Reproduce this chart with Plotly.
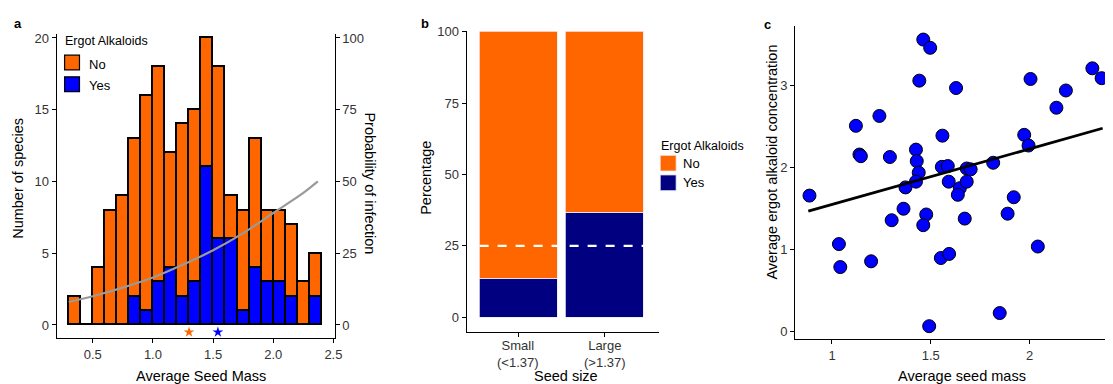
import plotly.graph_objects as go

# ---------------- data ----------------
# Panel a: histogram of average seed mass (bins of width 0.1)
bin_starts = [0.3, 0.4, 0.5, 0.6, 0.7, 0.8, 0.9, 1.0, 1.1, 1.2, 1.3,
              1.4, 1.5, 1.6, 1.7, 1.8, 1.9, 2.0, 2.1, 2.2, 2.3]
yes_counts = [0, 0, 0, 0, 0, 2, 1, 3, 4, 2, 3, 11, 6, 6, 1, 4, 3, 3, 2, 0, 2]
no_counts = [2, 0, 4, 8, 9, 11, 15, 15, 8, 12, 12, 9, 12, 3, 7, 9, 5, 5, 5, 3, 3]
bin_width = 0.1

# fitted probability of infection
curve_mass = [0.3, 0.5, 0.75, 1.0, 1.25, 1.5, 1.75, 2.0, 2.25, 2.37]
curve_prob = [8, 10, 13, 16.5, 21, 26, 32, 39, 46, 50]

# median markers (stars)
star_mass = [1.30, 1.54]
star_level = [-0.5, -0.5]

# Panel b: percentage by seed size
size_groups = ["Small<br>(<1.37)", "Large<br>(>1.37)"]
pct_yes = [13.5, 36.5]
pct_no = [86.5, 63.5]
baseline_pct = 25

# Panel c: scatter of seed mass vs alkaloid concentration
seed_mass_c = [0.886, 1.121, 1.139, 1.146, 1.240, 1.293, 1.372, 1.425, 1.429, 1.439,
               1.425, 1.442, 1.462, 1.497, 1.559, 1.556, 1.586, 1.591, 1.628, 1.647,
               1.637, 1.682, 1.702, 1.682, 1.816, 1.920, 1.973, 1.995, 2.005, 2.136,
               2.184, 2.318, 2.365, 1.362, 1.302, 1.477, 1.462, 1.672, 1.889, 1.035,
               1.042, 1.198, 1.551, 1.593, 2.042, 1.849, 1.492]
ergot_conc = [1.66, 2.51, 2.16, 2.14, 2.63, 2.13, 1.76, 2.22, 2.08, 1.94,
              1.83, 3.06, 3.56, 3.46, 2.39, 2.01, 2.02, 1.83, 2.97, 1.75,
              1.67, 1.99, 1.98, 1.83, 2.06, 1.64, 2.40, 2.27, 3.08, 2.73,
              2.94, 3.21, 3.09, 1.50, 1.36, 1.43, 1.30, 1.38, 1.44, 1.07,
              0.79, 0.86, 0.90, 0.95, 1.04, 0.23, 0.07]
fit_x = [0.88, 2.37]
fit_y = [1.47, 2.48]

# ---------------- styling ----------------
W, H = 1113, 384
OFF = 8  # page body margin in the browser
FW, FH = W - OFF, H - OFF
ORANGE = "#FF6600"
BLUE = "#0000FF"
NAVY = "#000080"
FONT = "Liberation Sans, Arial, sans-serif"
TICKCOL = "#333333"


def px(x):
    return (x - OFF) / FW


def py(y):
    return 1 - (y - OFF) / FH


bin_centers = [b + bin_width / 2 for b in bin_starts]

fig = go.Figure()

# Panel a
fig.add_trace(go.Bar(x=bin_centers, y=yes_counts, width=bin_width, marker=dict(color=BLUE, line=dict(color="black", width=1.2)),
                     xaxis="x", yaxis="y", showlegend=False, name="Yes"))
fig.add_trace(go.Bar(x=bin_centers, y=no_counts, width=bin_width, marker=dict(color=ORANGE, line=dict(color="black", width=1.2)),
                     xaxis="x", yaxis="y", showlegend=False, name="No"))
fig.add_trace(go.Scatter(x=curve_mass, y=curve_prob, mode="lines", line=dict(color="#9a9a9a", width=2.2, shape="spline"),
                         xaxis="x", yaxis="y2", showlegend=False))
fig.add_trace(go.Scatter(x=star_mass, y=star_level, mode="markers",
                         marker=dict(symbol="star", size=8, color=[ORANGE, BLUE], line=dict(width=0)),
                         xaxis="x", yaxis="y", showlegend=False, cliponaxis=False))

# Panel b
fig.add_trace(go.Bar(x=size_groups, y=pct_yes, width=0.9, marker=dict(color=NAVY, line=dict(color="#e8e8f4", width=0.8)),
                     xaxis="x2", yaxis="y3", showlegend=False))
fig.add_trace(go.Bar(x=size_groups, y=pct_no, width=0.9, marker=dict(color=ORANGE, line=dict(color="#f4e8e8", width=0.8)),
                     xaxis="x2", yaxis="y3", showlegend=False))

# Panel c
fig.add_trace(go.Scatter(x=seed_mass_c, y=ergot_conc, mode="markers",
                         marker=dict(size=13, color=BLUE, line=dict(color="black", width=1)),
                         xaxis="x3", yaxis="y4", showlegend=False, cliponaxis=False))
fig.add_trace(go.Scatter(x=fit_x, y=fit_y, mode="lines", line=dict(color="black", width=2.8),
                         xaxis="x3", yaxis="y4", showlegend=False))

axis_common = dict(showline=True, linecolor="black", linewidth=1.2, ticks="outside", ticklen=4,
                   tickcolor="black", tickwidth=1.1, showgrid=False, zeroline=False,
                   tickfont=dict(family=FONT, size=13, color=TICKCOL))

fig.update_layout(
    width=FW, height=FH, autosize=False,
    margin=dict(l=0, r=0, t=0, b=0),
    paper_bgcolor="white", plot_bgcolor="rgba(0,0,0,0)",
    barmode="stack", bargap=0,
    font=dict(family=FONT, color="black"),
    xaxis=dict(domain=[px(57), px(337)], range=[0.2, 2.51], anchor="y",
               tickvals=[0.5, 1.0, 1.5, 2.0, 2.5], ticktext=["0.5", "1.0", "1.5", "2.0", "2.5"], **axis_common),
    yaxis=dict(domain=[py(338), py(28)], range=[-0.9, 20.3], anchor="x",
               tickvals=[0, 5, 10, 15, 20], **axis_common),
    yaxis2=dict(overlaying="y", side="right", anchor="x", range=[-4.5, 101.5],
                tickvals=[0, 25, 50, 75, 100], **axis_common),
    xaxis2=dict(domain=[px(470), px(664)], range=[-0.6, 1.63], anchor="y3", type="category",
                showticklabels=False, **axis_common),
    yaxis3=dict(domain=[py(332), py(25)], range=[-5.15, 100.35], anchor="x2",
                tickvals=[0, 25, 50, 75, 100], **axis_common),
    xaxis3=dict(domain=[px(801), 1.0], range=[0.814, 2.382], anchor="y4",
                tickvals=[1, 1.5, 2], ticktext=["1", "1.5", "2"], **axis_common),
    yaxis4=dict(domain=[py(339), py(20)], range=[-0.084, 3.728], anchor="x3",
                tickvals=[0, 1, 2, 3], **axis_common),
)

# dashed baseline in panel b
fig.add_shape(type="line", xref="x2", yref="y3", x0=-0.45, x1=1.45, y0=baseline_pct, y1=baseline_pct,
              line=dict(color="white", width=2.2, dash="dash"))

annos = []


def txt(x, y, s, size=14.5, angle=0, xanchor="center", yanchor="middle", bold=False, color="black"):
    if bold:
        s = "<b>" + s + "</b>"
    annos.append(dict(x=px(x), y=py(y), xref="paper", yref="paper", text=s, showarrow=False,
                      textangle=angle, xanchor=xanchor, yanchor=yanchor,
                      font=dict(family=FONT, size=size, color=color)))


# panel b category labels (tick labels, placed on the category axis)
for i, lab in enumerate(size_groups):
    annos.append(dict(x=i, y=py(336), xref="x2", yref="paper", text=lab, showarrow=False,
                      xanchor="center", yanchor="top",
                      font=dict(family=FONT, size=13, color=TICKCOL)))

# panel labels
txt(18, 18, "a", size=13, bold=True)
txt(428, 18, "b", size=13, bold=True)
txt(773, 19, "c", size=13, bold=True)

# axis titles
txt(18, 175, "Number of species", angle=-90)
txt(202, 377, "Average Seed Mass")
txt(373, 181, "Probability of infection", angle=90)
txt(429, 175, "Percentage", angle=-90)
txt(570, 377, "Seed size")
txt(778, 159, "Average ergot alkaloid concentration", angle=-90)
txt(969, 377, "Average seed mass")

# legend a
txt(63, 36, "Ergot Alkaloids", size=12.5, xanchor="left")
txt(88, 59, "No", size=13, xanchor="left")
txt(88, 81, "Yes", size=13, xanchor="left")
fig.add_shape(type="rect", xref="paper", yref="paper", x0=px(65), x1=px(80), y0=py(65), y1=py(50),
              fillcolor=ORANGE, line=dict(color="black", width=1.2))
fig.add_shape(type="rect", xref="paper", yref="paper", x0=px(65), x1=px(80), y0=py(87), y1=py(72),
              fillcolor=BLUE, line=dict(color="black", width=1.2))

# legend b
txt(664, 142, "Ergot Alkaloids", size=12.5, xanchor="left")
txt(686, 160, "No", size=13, xanchor="left")
txt(686, 180, "Yes", size=13, xanchor="left")
fig.add_shape(type="rect", xref="paper", yref="paper", x0=px(665), x1=px(681), y0=py(168), y1=py(152),
              fillcolor=ORANGE, line=dict(color="#f4e8e8", width=0.8))
fig.add_shape(type="rect", xref="paper", yref="paper", x0=px(665), x1=px(681), y0=py(188), y1=py(172),
              fillcolor=NAVY, line=dict(color="#e8e8f4", width=0.8))

fig.update_layout(annotations=annos)

fig.write_html("out.html")
